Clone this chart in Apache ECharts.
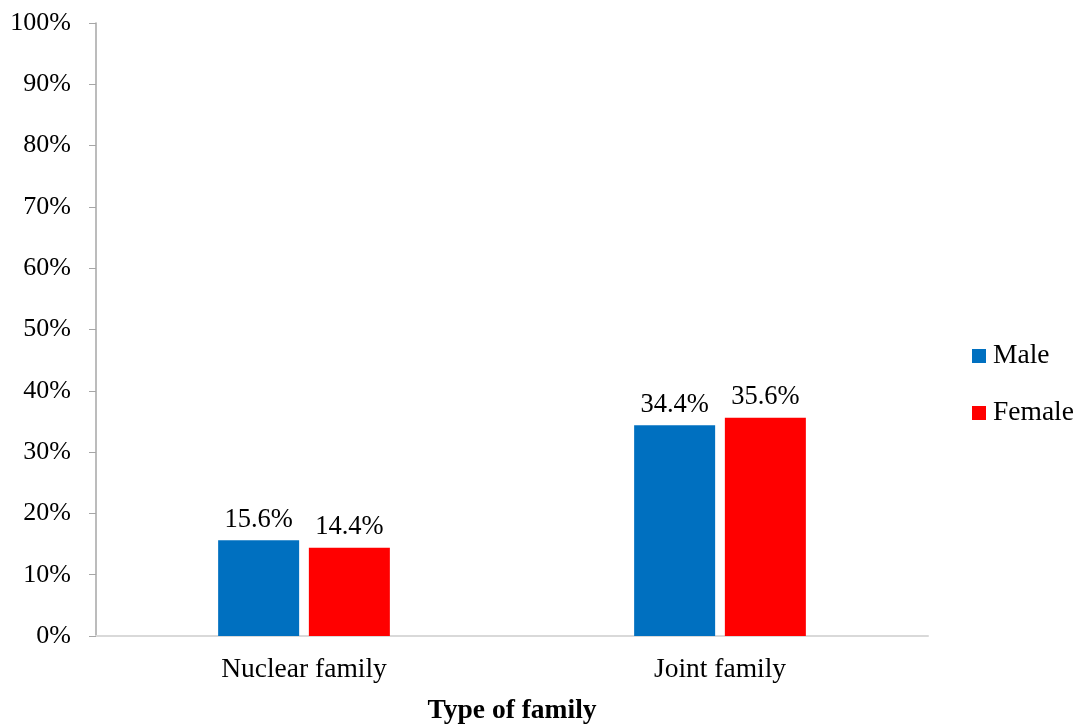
<!DOCTYPE html>
<html>
<head>
<meta charset="utf-8">
<script src="https://cdn.jsdelivr.net/npm/echarts@6/dist/echarts.min.js"></script>
<style>
  html, body { margin: 0; padding: 0; background: #fff; }
  #chart { width: 1081px; height: 726px; }
</style>
</head>
<body>
<div id="chart"></div>
<script>
const categories = ["Nuclear family", "Joint family"];
const maleValues = [15.6, 34.4];
const femaleValues = [14.4, 35.6];
const seriesNames = ["Male", "Female"];

const font = "'Liberation Serif', 'Times New Roman', serif";

const chart = echarts.init(document.getElementById("chart"));

const labelStyle = {
  show: true,
  position: "top",
  distance: 7,
  fontFamily: font,
  fontSize: 26.5,
  color: "#000",
  formatter: p => p.value.toFixed(1) + "%"
};

const option = {
  animation: false,
  textStyle: { fontFamily: font },
  grid: { left: 96, right: 153, top: 23, bottom: 90, outerBoundsMode: "none", containLabel: false },
  legend: {
    orient: "vertical",
    left: 972,
    top: 342,
    padding: 0,
    itemWidth: 14,
    itemHeight: 14,
    itemGap: 29,
    icon: "rect",
    textStyle: { fontFamily: font, fontSize: 27.5, lineHeight: 28, color: "#000", padding: [0, 0, 0, 2] },
    data: seriesNames
  },
  xAxis: {
    type: "category",
    data: categories,
    name: "Type of family",
    nameLocation: "middle",
    nameGap: 61,
    nameTextStyle: { fontFamily: font, fontSize: 27.5, fontWeight: "bold", color: "#000" },
    axisLine: { lineStyle: { color: "#d9d9d9", width: 2 } },
    axisTick: { show: false },
    axisLabel: { fontFamily: font, fontSize: 27.5, color: "#000", margin: 20 }
  },
  yAxis: {
    type: "value",
    min: 0,
    max: 100,
    interval: 10,
    axisLine: { show: true, lineStyle: { color: "#a6a6a6", width: 1.5 } },
    axisTick: { show: true, length: 7, lineStyle: { color: "#a6a6a6" } },
    splitLine: { show: false },
    axisLabel: {
      fontFamily: font,
      fontSize: 26,
      color: "#000",
      margin: 25,
      formatter: v => v + "%"
    }
  },
  series: [
    {
      name: seriesNames[0],
      type: "bar",
      data: maleValues,
      barWidth: 81,
      barGap: "12%",
      itemStyle: { color: "#0070C0" },
      label: labelStyle
    },
    {
      name: seriesNames[1],
      type: "bar",
      data: femaleValues,
      barWidth: 81,
      barGap: "12%",
      itemStyle: { color: "#FF0000" },
      label: labelStyle
    }
  ]
};

chart.setOption(option);
</script>
</body>
</html>
